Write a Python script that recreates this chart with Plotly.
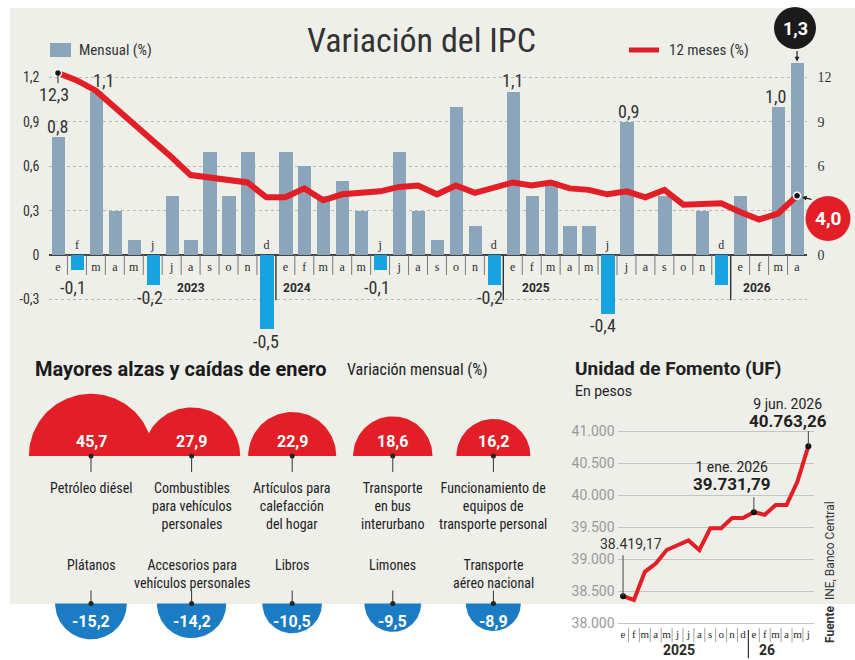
import numpy as np
import plotly.graph_objects as go

# ---------------- DATA ----------------
meses_ipc = ["e", "f", "m", "a", "m", "j", "j", "a", "s", "o", "n", "d",
             "e", "f", "m", "a", "m", "j", "j", "a", "s", "o", "n", "d",
             "e", "f", "m", "a", "m", "j", "j", "a", "s", "o", "n", "d",
             "e", "f", "m", "a"]
anios_ipc = ["2023", "2024", "2025", "2026"]
mensual = [0.8, -0.1, 1.1, 0.3, 0.1, -0.2, 0.4, 0.1, 0.7, 0.4, 0.7, -0.5,
           0.7, 0.6, 0.4, 0.5, 0.3, -0.1, 0.7, 0.3, 0.1, 1.0, 0.2, -0.2,
           1.1, 0.4, 0.5, 0.2, 0.2, -0.4, 0.9, 0.0, 0.4, 0.0, 0.3, -0.2,
           0.4, 0.0, 1.0, 1.3]
doce_meses = [12.3, 11.8, 11.1, 10.0, 8.8, 7.8, 6.6, 5.4, 5.2, 5.1, 4.9, 3.9,
              3.9, 4.5, 3.7, 4.1, 4.2, 4.3, 4.6, 4.7, 4.1, 4.7, 4.2, 4.5,
              4.9, 4.7, 4.9, 4.5, 4.4, 4.1, 4.3, 3.9, 4.4, 3.4, 3.4, 3.5,
              2.9, 2.4, 2.8, 4.0]
ticks_mensual = [-0.3, 0, 0.3, 0.6, 0.9, 1.2]
ticks_12m = [0, 6, 9, 12]

uf_meses = ["e", "f", "m", "a", "m", "j", "j", "a", "s", "o", "n", "d",
            "e", "f", "m", "a", "m", "j"]
uf_anios = ["2025", "26"]
uf_valores = [38419.17, 38360, 38800, 38930, 39140, 39220, 39290, 39140, 39480,
              39480, 39640, 39640, 39731.79, 39690, 39845, 39845, 40210, 40763.26]
uf_ticks = [38000, 38500, 39000, 39500, 40000, 40500, 41000]
uf_fechas = {0: "", 12: "1 ene. 2026", 17: "9 jun. 2026"}

alzas_nombres = ["Petróleo diésel", "Combustibles<br>para vehículos<br>personales",
                 "Artículos para<br>calefacción<br>del hogar", "Transporte<br>en bus<br>interurbano",
                 "Funcionamiento de<br>equipos de<br>transporte personal"]
alzas_valores = [45.7, 27.9, 22.9, 18.6, 16.2]
caidas_nombres = ["Plátanos", "Accesorios para<br>vehículos personales", "Libros",
                  "Limones", "Transporte<br>aéreo nacional"]
caidas_valores = [-15.2, -14.2, -10.5, -9.5, -8.9]

# ---------------- STYLE ----------------
W, H = 855, 660
def px(x): return x / W
def py(y): return 1 - y / H

C_POS = "#8ba6ba"
C_NEG = "#17a3e2"
RED = "#e21f26"
BLUE = "#1b7cc3"
BG = "#efefea"
TXT = "#2a2a2a"
NARROW = "Liberation Sans Narrow, Roboto Condensed, Roboto, sans-serif"
SANS = "Roboto, Liberation Sans, sans-serif"
SERIF = "Liberation Serif, DejaVu Serif, serif"

def fmt1(v):
    return f"{v:.1f}".replace(".", ",")

def fmt_miles(v, dec=0):
    s = f"{v:,.{dec}f}"
    return s.replace(",", "X").replace(".", ",").replace("X", ".")

fig = go.Figure()
idx = list(range(len(mensual)))

# ---------------- MAIN IPC CHART ----------------
fig.add_trace(go.Bar(x=idx, y=mensual, width=0.7,
                     marker=dict(color=[C_NEG if v < 0 else C_POS for v in mensual], line_width=0),
                     xaxis="x", yaxis="y", hoverinfo="skip"))
fig.add_trace(go.Scatter(x=idx, y=[0.062 if v < 0 else -0.088 for v in mensual],
                         mode="text", text=meses_ipc,
                         textfont=dict(family=SERIF, size=12, color=TXT),
                         xaxis="x", yaxis="y", hoverinfo="skip", cliponaxis=False))
fig.add_trace(go.Scatter(x=idx, y=doce_meses, mode="lines",
                         line=dict(color=RED, width=6),
                         xaxis="x", yaxis="y2", hoverinfo="skip"))
fig.add_trace(go.Scatter(x=[idx[0], idx[-1]], y=[doce_meses[0], doce_meses[-1]], mode="markers",
                         marker=dict(color="#111", size=7, line=dict(color="white", width=1.5)),
                         xaxis="x", yaxis="y2", hoverinfo="skip", cliponaxis=False))

shapes = []
annotations = []

shapes.append(dict(type="rect", xref="paper", yref="paper", x0=px(10), x1=px(855),
                   y0=py(604), y1=py(8), fillcolor=BG, line_width=0, layer="below"))

n = len(mensual)
for i in range(n - 1):
    year_break = meses_ipc[i + 1] == "e"
    shapes.append(dict(type="line", xref="x", yref="y", x0=i + 0.5, x1=i + 0.5,
                       y0=0, y1=-0.305 if year_break else -0.135,
                       line=dict(color="#333" if year_break else "#777",
                                 width=1.4 if year_break else 1)))
year_x = [7.0, 12.6, 25.2, 36.9]
for yx, yr in zip(year_x, anios_ipc):
    annotations.append(dict(x=yx, y=-0.223, xref="x", yref="y", text=f"<b>{yr}</b>",
                            showarrow=False, font=dict(family=SANS, size=12, color=TXT)))

label_spec = [(0, 0, 10), (1, -4, -18), (2, 8, 12), (5, -3, -13), (11, 0, -13),
              (17, -3, -18), (23, -4, -13), (24, 0, 12), (29, -5, -11), (30, 2, 10),
              (38, -3, 10)]
for i, xs, ys in label_spec:
    annotations.append(dict(x=i, y=mensual[i], xref="x", yref="y", text=fmt1(mensual[i]),
                            showarrow=False, xshift=xs, yshift=ys,
                            font=dict(family=NARROW, size=18, color="#333")))

shapes.append(dict(type="line", xref="x", yref="y2", x0=0, x1=0, y0=doce_meses[0], y1=doce_meses[0] - 0.7,
                   line=dict(color="#222", width=1)))
annotations.append(dict(x=0, y=doce_meses[0], xref="x", yref="y2", text=fmt1(doce_meses[0]),
                        showarrow=False, xshift=-4, yshift=-22,
                        font=dict(family=NARROW, size=18, color="#333")))

# 1,3 black bubble
shapes.append(dict(type="circle", xref="paper", yref="paper", x0=px(774), x1=px(816),
                   y0=py(49), y1=py(7), fillcolor="#1b1b1b", line_width=0))
annotations.append(dict(x=px(795), y=py(28), xref="paper", yref="paper",
                        text=f"<b>{fmt1(mensual[-1])}</b>", showarrow=False,
                        font=dict(family=SANS, size=18, color="white")))
annotations.append(dict(x=idx[-1], y=mensual[-1], xref="x", yref="y", text="", showarrow=True,
                        ax=0, ay=-13, arrowhead=2, arrowsize=0.8, arrowwidth=1.2,
                        arrowcolor="#222", standoff=1))

# 4,0 red bubble
shapes.append(dict(type="circle", xref="paper", yref="paper", x0=px(805.5), x1=px(850.5),
                   y0=py(241), y1=py(196), fillcolor=RED, line_width=0, layer="above"))
annotations.append(dict(x=px(828), y=py(218.5), xref="paper", yref="paper",
                        text=f"<b>{fmt1(doce_meses[-1])}</b>", showarrow=False,
                        font=dict(family=SANS, size=19, color="white")))
annotations.append(dict(x=idx[-1], y=doce_meses[-1], xref="x", yref="y2", text="", showarrow=True,
                        ax=16, ay=4, arrowhead=2, arrowsize=0.8, arrowwidth=1.2,
                        arrowcolor="#222", standoff=5))

# title and legend
annotations.append(dict(x=px(421), y=py(40), xref="paper", yref="paper", text="Variación del IPC",
                        showarrow=False, font=dict(family=NARROW, size=34, color="#333")))
shapes.append(dict(type="rect", xref="paper", yref="paper", x0=px(50), x1=px(71),
                   y0=py(57), y1=py(43), fillcolor=C_POS, line_width=0))
annotations.append(dict(x=px(77), y=py(50), xref="paper", yref="paper", text="Mensual (%)",
                        xanchor="left", showarrow=False,
                        font=dict(family=NARROW, size=15, color="#333")))
shapes.append(dict(type="line", xref="paper", yref="paper", x0=px(629), x1=px(659),
                   y0=py(50), y1=py(50), line=dict(color=RED, width=5)))
annotations.append(dict(x=px(667), y=py(50), xref="paper", yref="paper", text="12 meses (%)",
                        xanchor="left", showarrow=False,
                        font=dict(family=NARROW, size=15, color="#333")))

# ---------------- UF CHART ----------------
uf_idx = list(range(len(uf_valores)))
fig.add_trace(go.Scatter(x=uf_idx, y=uf_valores, mode="lines", line=dict(color=RED, width=4),
                         xaxis="x2", yaxis="y3", hoverinfo="skip", cliponaxis=False))
hl = list(uf_fechas.keys())
fig.add_trace(go.Scatter(x=hl, y=[uf_valores[i] for i in hl], mode="markers",
                         marker=dict(color="#111", size=6),
                         xaxis="x2", yaxis="y3", hoverinfo="skip", cliponaxis=False))
fig.add_trace(go.Scatter(x=uf_idx, y=[37812] * len(uf_idx), mode="text", text=uf_meses,
                         textfont=dict(family=SERIF, size=11, color=TXT),
                         xaxis="x2", yaxis="y3", hoverinfo="skip", cliponaxis=False))
for i in range(len(uf_meses) - 1):
    yb = uf_meses[i + 1] == "e"
    shapes.append(dict(type="line", xref="x2", yref="y3", x0=i + 0.5, x1=i + 0.5,
                       y0=37450 if yb else 37700, y1=37890 if yb else 37920,
                       line=dict(color="#333" if yb else "#888", width=1.2 if yb else 0.8)))
for xx, yr in zip([5.1, 13.2], uf_anios):
    annotations.append(dict(x=xx, y=37575, xref="x2", yref="y3", text=f"<b>{yr}</b>",
                            showarrow=False, font=dict(family=SANS, size=14, color=TXT)))

annotations.append(dict(x=0, y=uf_valores[0], xref="x2", yref="y3", text=fmt_miles(uf_valores[0], 2),
                        showarrow=False, xshift=8, yshift=52,
                        font=dict(family=SANS, size=14, color="#333")))
shapes.append(dict(type="line", xref="x2", yref="y3", x0=0, x1=0, y0=uf_valores[0],
                   y1=uf_valores[0] + 640, line=dict(color="#444", width=1)))
for i, ysh, xsh in [(12, 16, -22), (17, 13, -20)]:
    annotations.append(dict(x=i, y=uf_valores[i], xref="x2", yref="y3",
                            text=f"{uf_fechas[i]}<br><b><span style='font-size:17px'>{fmt_miles(uf_valores[i], 2)}</span></b>",
                            showarrow=False, xshift=xsh, yshift=ysh, yanchor="bottom",
                            font=dict(family=SANS, size=14, color="#222")))
    shapes.append(dict(type="line", xref="x2", yref="y3", x0=i, x1=i, y0=uf_valores[i],
                       y1=uf_valores[i] + 235, line=dict(color="#444", width=1)))

annotations.append(dict(x=px(573), y=py(368), xref="paper", yref="paper", xanchor="left",
                        text="<b>Unidad de Fomento (UF)</b>", showarrow=False,
                        font=dict(family=SANS, size=19, color="#222")))
annotations.append(dict(x=px(573), y=py(391), xref="paper", yref="paper", xanchor="left",
                        text="En pesos", showarrow=False,
                        font=dict(family=SANS, size=14, color="#222")))
annotations.append(dict(x=px(830), y=py(572), xref="paper", yref="paper", textangle=-90,
                        text="<b>Fuente</b>  INE, Banco Central", showarrow=False,
                        font=dict(family=SANS, size=12, color="#333")))

# ---------------- BUBBLES ----------------
BX0, BDX = 91, 100.6
BASE_UP, BASE_DN = 456, 603.5
K = 9.2
t = np.linspace(0, np.pi, 80)
for j, (nm, v) in enumerate(zip(alzas_nombres, alzas_valores)):
    cx = BX0 + BDX * j
    r = K * np.sqrt(abs(v))
    xs = np.concatenate([cx + r * np.cos(t), [cx + r]])
    ys = np.concatenate([BASE_UP - r * np.sin(t), [BASE_UP]])
    fig.add_trace(go.Scatter(x=xs, y=ys, mode="lines", fill="toself", fillcolor=RED,
                             line=dict(width=0, color=RED), xaxis="x3", yaxis="y4", hoverinfo="skip"))
    annotations.append(dict(x=cx, y=BASE_UP - 15, xref="x3", yref="y4", text=f"<b>{fmt1(v)}</b>",
                            showarrow=False, font=dict(family=SANS, size=16, color="white")))
    shapes.append(dict(type="line", xref="x3", yref="y4", x0=cx, x1=cx, y0=BASE_UP, y1=BASE_UP + 16,
                       line=dict(color="#333", width=1)))
    annotations.append(dict(x=cx, y=BASE_UP + 22, xref="x3", yref="y4", text=nm, yanchor="top",
                            showarrow=False, align="center",
                            font=dict(family=NARROW, size=14, color="#222")))
for j, (nm, v) in enumerate(zip(caidas_nombres, caidas_valores)):
    cx = BX0 + BDX * j
    r = K * np.sqrt(abs(v))
    xs = np.concatenate([cx + r * np.cos(t), [cx + r]])
    ys = np.concatenate([BASE_DN + r * np.sin(t), [BASE_DN]])
    fig.add_trace(go.Scatter(x=xs, y=ys, mode="lines", fill="toself", fillcolor=BLUE,
                             line=dict(width=0, color=BLUE), xaxis="x3", yaxis="y4", hoverinfo="skip"))
    annotations.append(dict(x=cx, y=BASE_DN + 18, xref="x3", yref="y4", text=f"<b>{fmt1(v)}</b>",
                            showarrow=False, font=dict(family=SANS, size=16, color="white")))
    shapes.append(dict(type="line", xref="x3", yref="y4", x0=cx, x1=cx, y0=BASE_DN - 13, y1=BASE_DN,
                       line=dict(color="#333", width=1)))
    annotations.append(dict(x=cx, y=BASE_DN - 49, xref="x3", yref="y4", text=nm, yanchor="top",
                            showarrow=False, align="center",
                            font=dict(family=NARROW, size=14, color="#222")))
fig.add_trace(go.Scatter(x=[BX0 + BDX * j for j in range(5)] * 2,
                         y=[BASE_UP] * 5 + [BASE_DN] * 5, mode="markers",
                         marker=dict(color="#222", size=5), xaxis="x3", yaxis="y4", hoverinfo="skip"))

annotations.append(dict(x=px(33), y=py(369), xref="paper", yref="paper", xanchor="left",
                        text="<b>Mayores alzas y caídas de enero</b>", showarrow=False,
                        font=dict(family=SANS, size=20, color="#1a1a1a")))
annotations.append(dict(x=px(345), y=py(370), xref="paper", yref="paper", xanchor="left",
                        text="Variación mensual (%)", showarrow=False,
                        font=dict(family=NARROW, size=16, color="#222")))

for a in annotations:
    a.setdefault("xanchor", "center")
    a.setdefault("yanchor", "middle")

# ---------------- LAYOUT ----------------
UF_LO, UF_HI = 37440, 41150
UF_PX_PER = 0.064
fig.update_layout(
    width=W, height=H, margin=dict(l=0, r=0, t=0, b=0, pad=0, autoexpand=False),
    paper_bgcolor="white", plot_bgcolor="rgba(0,0,0,0)",
    showlegend=False, separators=",.", bargap=0,
    xaxis=dict(domain=[px(48.5), px(806.5)], range=[-0.5, 39.5], visible=False, anchor="y",
               automargin=False),
    yaxis=dict(domain=[py(343.8), py(47.8)], range=[-0.6, 1.4], anchor="x", automargin=False,
               tickvals=ticks_mensual, ticktext=[fmt1(v) if v != 0 else "0" for v in ticks_mensual],
               showgrid=True, gridcolor="#b8b8b8", griddash="3px,3px", gridwidth=1,
               zeroline=True, zerolinecolor="#444", zerolinewidth=1.5, showline=False,
               ticks="", ticklabelstandoff=8, tickfont=dict(family=NARROW, size=14, color="#333")),
    yaxis2=dict(overlaying="y", side="right", range=[-6, 14], anchor="x", automargin=False,
                tickvals=ticks_12m, ticktext=[str(v) for v in ticks_12m], showgrid=False,
                zeroline=False, ticks="", ticklabelstandoff=10,
                tickfont=dict(family=SERIF, size=14, color="#333")),
    xaxis2=dict(domain=[px(617.6), px(813.8)], range=[-0.5, 17.5], visible=False, anchor="y3",
                automargin=False),
    yaxis3=dict(domain=[py(623 + (38000 - UF_LO) * UF_PX_PER), py(623 - (UF_HI - 38000) * UF_PX_PER)],
                range=[UF_LO, UF_HI], anchor="x2", automargin=False,
                tickvals=uf_ticks, ticktext=[fmt_miles(v) for v in uf_ticks],
                showgrid=True, gridcolor="#c4c4c4", gridwidth=1, zeroline=False, ticks="",
                ticklabelstandoff=2, tickfont=dict(family=SANS, size=14, color="#999")),
    xaxis3=dict(domain=[0, px(560)], range=[0, 560], visible=False, anchor="y4", automargin=False),
    yaxis4=dict(domain=[0, py(380)], range=[660, 380], visible=False, anchor="x3", automargin=False),
    shapes=shapes, annotations=annotations,
)

fig.write_html("out.html", config={"displayModeBar": False},
               post_script="document.body.style.margin='0px';")
